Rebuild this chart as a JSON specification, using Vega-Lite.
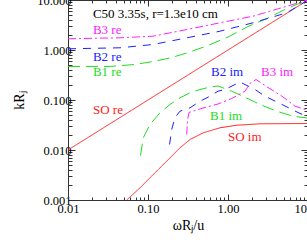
{
  "$schema": "https://vega.github.io/schema/vega-lite/v6.json",
  "width": 240,
  "height": 200,
  "autosize": "none",
  "padding": {"left": 68, "top": 0, "right": 0, "bottom": 45},
  "background": "white",
  "config": {
    "view": {"stroke": null},
    "axis": {
      "domainColor": "#333",
      "tickColor": "#333",
      "labelColor": "#000",
      "labelFont": "Liberation Serif",
      "labelFontSize": 12.5,
      "titleFont": "Liberation Serif",
      "titleFontSize": 14,
      "titleFontWeight": "normal",
      "titleColor": "#000",
      "grid": false,
      "labelFlush": false
    }
  },
  "datasets": {
    "curves": [
      {"s": "SO re", "g": "SO", "x": 0.01, "y": 0.01},
      {"s": "SO re", "g": "SO", "x": 10, "y": 10},
      {"s": "SO im", "g": "SO", "x": 0.0542, "y": 0.001},
      {"s": "SO im", "g": "SO", "x": 0.0794, "y": 0.00175},
      {"s": "SO im", "g": "SO", "x": 0.1165, "y": 0.00324},
      {"s": "SO im", "g": "SO", "x": 0.1714, "y": 0.00597},
      {"s": "SO im", "g": "SO", "x": 0.251, "y": 0.01107},
      {"s": "SO im", "g": "SO", "x": 0.335, "y": 0.0162},
      {"s": "SO im", "g": "SO", "x": 0.491, "y": 0.0221},
      {"s": "SO im", "g": "SO", "x": 0.794, "y": 0.0278},
      {"s": "SO im", "g": "SO", "x": 1.285, "y": 0.0313},
      {"s": "SO im", "g": "SO", "x": 2.51, "y": 0.0334},
      {"s": "SO im", "g": "SO", "x": 10, "y": 0.0339},
      {"s": "B1 re", "g": "B1", "x": 0.01, "y": 0.468},
      {"s": "B1 re", "g": "B1", "x": 0.0335, "y": 0.47},
      {"s": "B1 re", "g": "B1", "x": 0.0688, "y": 0.513},
      {"s": "B1 re", "g": "B1", "x": 0.1155, "y": 0.589},
      {"s": "B1 re", "g": "B1", "x": 0.188, "y": 0.692},
      {"s": "B1 re", "g": "B1", "x": 0.307, "y": 0.871},
      {"s": "B1 re", "g": "B1", "x": 0.562, "y": 1.23},
      {"s": "B1 re", "g": "B1", "x": 1.0, "y": 1.82},
      {"s": "B1 re", "g": "B1", "x": 1.78, "y": 2.95},
      {"s": "B1 re", "g": "B1", "x": 3.16, "y": 4.37},
      {"s": "B1 re", "g": "B1", "x": 5.62, "y": 6.92},
      {"s": "B1 re", "g": "B1", "x": 10, "y": 10},
      {"s": "B2 re", "g": "B2", "x": 0.01, "y": 1.057},
      {"s": "B2 re", "g": "B2", "x": 0.0447, "y": 1.107},
      {"s": "B2 re", "g": "B2", "x": 0.1155, "y": 1.288},
      {"s": "B2 re", "g": "B2", "x": 0.307, "y": 1.754},
      {"s": "B2 re", "g": "B2", "x": 0.794, "y": 2.377},
      {"s": "B2 re", "g": "B2", "x": 2.054, "y": 3.5},
      {"s": "B2 re", "g": "B2", "x": 5.46, "y": 5.55},
      {"s": "B2 re", "g": "B2", "x": 10, "y": 10},
      {"s": "B3 re", "g": "B3", "x": 0.01, "y": 1.675},
      {"s": "B3 re", "g": "B3", "x": 0.0447, "y": 1.754},
      {"s": "B3 re", "g": "B3", "x": 0.1155, "y": 1.888},
      {"s": "B3 re", "g": "B3", "x": 0.307, "y": 2.57},
      {"s": "B3 re", "g": "B3", "x": 0.794, "y": 3.5},
      {"s": "B3 re", "g": "B3", "x": 2.054, "y": 4.74},
      {"s": "B3 re", "g": "B3", "x": 5.46, "y": 7.52},
      {"s": "B3 re", "g": "B3", "x": 10, "y": 10},
      {"s": "B1 im", "g": "B1", "x": 0.0806, "y": 0.00776},
      {"s": "B1 im", "g": "B1", "x": 0.0873, "y": 0.01754},
      {"s": "B1 im", "g": "B1", "x": 0.106, "y": 0.0324},
      {"s": "B1 im", "g": "B1", "x": 0.141, "y": 0.0555},
      {"s": "B1 im", "g": "B1", "x": 0.188, "y": 0.0813},
      {"s": "B1 im", "g": "B1", "x": 0.251, "y": 0.1107},
      {"s": "B1 im", "g": "B1", "x": 0.335, "y": 0.1393},
      {"s": "B1 im", "g": "B1", "x": 0.447, "y": 0.162},
      {"s": "B1 im", "g": "B1", "x": 0.596, "y": 0.182},
      {"s": "B1 im", "g": "B1", "x": 0.75, "y": 0.1905},
      {"s": "B1 im", "g": "B1", "x": 1.112, "y": 0.15},
      {"s": "B1 im", "g": "B1", "x": 1.54, "y": 0.119},
      {"s": "B1 im", "g": "B1", "x": 2.51, "y": 0.0813},
      {"s": "B1 im", "g": "B1", "x": 4.06, "y": 0.0597},
      {"s": "B1 im", "g": "B1", "x": 6.49, "y": 0.0474},
      {"s": "B1 im", "g": "B1", "x": 10, "y": 0.0435},
      {"s": "B2 im", "g": "B2", "x": 0.186, "y": 0.0129},
      {"s": "B2 im", "g": "B2", "x": 0.198, "y": 0.0257},
      {"s": "B2 im", "g": "B2", "x": 0.2176, "y": 0.0447},
      {"s": "B2 im", "g": "B2", "x": 0.251, "y": 0.0597},
      {"s": "B2 im", "g": "B2", "x": 0.335, "y": 0.0698},
      {"s": "B2 im", "g": "B2", "x": 0.447, "y": 0.0946},
      {"s": "B2 im", "g": "B2", "x": 0.596, "y": 0.119},
      {"s": "B2 im", "g": "B2", "x": 0.75, "y": 0.15},
      {"s": "B2 im", "g": "B2", "x": 0.917, "y": 0.162},
      {"s": "B2 im", "g": "B2", "x": 1.41, "y": 0.229},
      {"s": "B2 im", "g": "B2", "x": 2.18, "y": 0.162},
      {"s": "B2 im", "g": "B2", "x": 2.9, "y": 0.119},
      {"s": "B2 im", "g": "B2", "x": 4.22, "y": 0.0891},
      {"s": "B2 im", "g": "B2", "x": 5.62, "y": 0.0708},
      {"s": "B2 im", "g": "B2", "x": 7.5, "y": 0.0562},
      {"s": "B2 im", "g": "B2", "x": 10, "y": 0.046},
      {"s": "B3 im", "g": "B3", "x": 0.305, "y": 0.0204},
      {"s": "B3 im", "g": "B3", "x": 0.312, "y": 0.0407},
      {"s": "B3 im", "g": "B3", "x": 0.3256, "y": 0.0562},
      {"s": "B3 im", "g": "B3", "x": 0.387, "y": 0.0617},
      {"s": "B3 im", "g": "B3", "x": 0.516, "y": 0.0708},
      {"s": "B3 im", "g": "B3", "x": 0.75, "y": 0.0832},
      {"s": "B3 im", "g": "B3", "x": 1.112, "y": 0.107},
      {"s": "B3 im", "g": "B3", "x": 1.63, "y": 0.15},
      {"s": "B3 im", "g": "B3", "x": 1.88, "y": 0.214},
      {"s": "B3 im", "g": "B3", "x": 2.24, "y": 0.257},
      {"s": "B3 im", "g": "B3", "x": 3.16, "y": 0.178},
      {"s": "B3 im", "g": "B3", "x": 4.73, "y": 0.119},
      {"s": "B3 im", "g": "B3", "x": 6.88, "y": 0.0752},
      {"s": "B3 im", "g": "B3", "x": 10, "y": 0.062}
    ],
    "labels": [
      {"t": "C50 3.35s, r=1.3e10 cm", "g": "info", "x": 0.0205, "y": 5.25},
      {"t": "B3 re", "g": "B3", "x": 0.0205, "y": 2.455},
      {"t": "B2 re", "g": "B2", "x": 0.0205, "y": 0.741},
      {"t": "B1 re", "g": "B1", "x": 0.0205, "y": 0.363},
      {"t": "SO re", "g": "SO", "x": 0.0205, "y": 0.0617},
      {"t": "B2 im", "g": "B2", "x": 0.613, "y": 0.363},
      {"t": "B3 im", "g": "B3", "x": 2.586, "y": 0.363},
      {"t": "B1 im", "g": "B1", "x": 0.596, "y": 0.0468},
      {"t": "SO im", "g": "SO", "x": 1.0, "y": 0.0182}
    ]
  },
  "layer": [
    {
      "data": {"name": "curves"},
      "mark": {"type": "line", "strokeWidth": 1, "clip": true},
      "encoding": {
        "x": {
          "field": "x", "type": "quantitative",
          "scale": {"type": "log", "domain": [0.01, 10], "nice": false},
          "axis": {
            "orient": "bottom",
            "title": "ωRⱼ/u",
            "format": ".2f",
            "values": [0.01,0.02,0.03,0.04,0.05,0.06,0.07,0.08,0.09,0.1,0.2,0.3,0.4,0.5,0.6,0.7,0.8,0.9,1,2,3,4,5,6,7,8,9,10],
            "labelExpr": "abs(log(datum.value)/LN10 - round(log(datum.value)/LN10)) < 1e-6 ? datum.label : ''",
            "tickSize": {"condition": {"test": "abs(log(datum.value)/LN10 - round(log(datum.value)/LN10)) < 1e-6", "value": -6}, "value": -3},
            "labelPadding": 8,
            "titlePadding": 4
          }
        },
        "y": {
          "field": "y", "type": "quantitative",
          "scale": {"type": "log", "domain": [0.001, 10], "nice": false},
          "axis": {
            "orient": "left",
            "title": "kRⱼ",
            "format": ".3f",
            "values": [0.001,0.002,0.003,0.004,0.005,0.006,0.007,0.008,0.009,0.01,0.02,0.03,0.04,0.05,0.06,0.07,0.08,0.09,0.1,0.2,0.3,0.4,0.5,0.6,0.7,0.8,0.9,1,2,3,4,5,6,7,8,9,10],
            "labelExpr": "abs(log(datum.value)/LN10 - round(log(datum.value)/LN10)) < 1e-6 ? datum.label : ''",
            "tickSize": {"condition": {"test": "abs(log(datum.value)/LN10 - round(log(datum.value)/LN10)) < 1e-6", "value": -7}, "value": -4},
            "labelPadding": 4,
            "titlePadding": 10
          }
        },
        "color": {
          "field": "g", "type": "nominal", "legend": null,
          "scale": {"domain": ["SO", "B1", "B2", "B3", "info"], "range": ["#ff2020", "#20dd20", "#2020ff", "#ff20ff", "#000000"]}
        },
        "strokeDash": {
          "field": "g", "type": "nominal", "legend": null,
          "scale": {"domain": ["SO", "B1", "B2", "B3"], "range": [[1, 0], [12, 6], [8, 7], [8, 3, 2, 3]]}
        },
        "detail": {"field": "s", "type": "nominal"}
      }
    },
    {
      "data": {"name": "labels"},
      "mark": {"type": "text", "align": "left", "baseline": "middle", "font": "Liberation Serif", "fontSize": 13},
      "encoding": {
        "x": {
          "field": "x", "type": "quantitative",
          "axis": {
            "orient": "top",
            "title": null,
            "labels": false,
            "values": [0.01,0.02,0.03,0.04,0.05,0.06,0.07,0.08,0.09,0.1,0.2,0.3,0.4,0.5,0.6,0.7,0.8,0.9,1,2,3,4,5,6,7,8,9,10],
            "tickSize": {"condition": {"test": "abs(log(datum.value)/LN10 - round(log(datum.value)/LN10)) < 1e-6", "value": -6}, "value": -3}
          }
        },
        "y": {
          "field": "y", "type": "quantitative",
          "axis": {
            "orient": "right",
            "title": null,
            "labels": false,
            "values": [0.001,0.002,0.003,0.004,0.005,0.006,0.007,0.008,0.009,0.01,0.02,0.03,0.04,0.05,0.06,0.07,0.08,0.09,0.1,0.2,0.3,0.4,0.5,0.6,0.7,0.8,0.9,1,2,3,4,5,6,7,8,9,10],
            "tickSize": {"condition": {"test": "abs(log(datum.value)/LN10 - round(log(datum.value)/LN10)) < 1e-6", "value": -7}, "value": -4}
          }
        },
        "text": {"field": "t", "type": "nominal"},
        "color": {"field": "g", "type": "nominal", "legend": null}
      }
    }
  ]
}
